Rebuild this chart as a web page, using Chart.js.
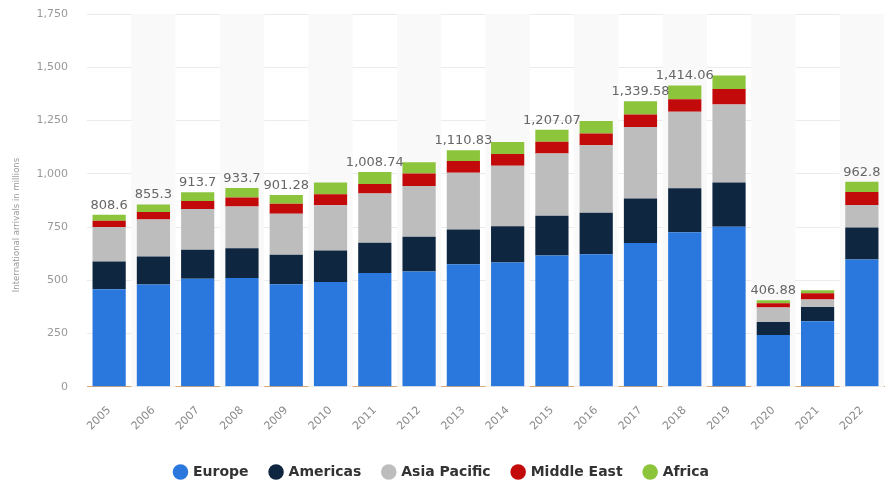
<!DOCTYPE html>
<html><head><meta charset="utf-8">
<script src="https://cdn.jsdelivr.net/npm/chart.js@4.4.0/dist/chart.umd.min.js"></script>
<style>html,body{margin:0;padding:0;background:#fff}#wrap{width:885px;height:483px;position:relative}</style>
</head><body><div id="wrap"><canvas id="c"></canvas></div>
<script>
const years = ['2005','2006','2007','2008','2009','2010','2011','2012','2013','2014','2015','2016','2017','2018','2019','2020','2021','2022'];
const europe      = [458,480,508,511,482,492,534,541,576,584,617,622,675,726,751,244,308,598];
const americas    = [130,132,135,140,138,148,142,163,163,170,186,195,209,206,208, 60, 67,150];
const asiaPacific = [162,174,192,195,192,212,232,239,266,284,292,317,336,359,366, 69, 35,106];
const middleEast  = [ 30, 35, 37, 43, 47, 52, 44, 59, 55, 55, 56, 55, 58, 59, 73, 20, 29, 61];
const africa      = [ 28, 35, 42, 44, 42, 55, 57, 52, 51, 56, 56, 59, 62, 64, 63, 14, 15, 48];
const totalLabels = [808.6,855.3,913.7,933.7,901.28,null,1008.74,null,1110.83,null,1207.07,null,1339.58,1414.06,null,406.88,null,962.8];
const yTicks = [0,250,500,750,1000,1250,1500,1750];
const yTitle = 'International arrivals in millions';

const bandPlugin = {
  id:'bands',
  beforeDatasetsDraw(chart){
    const {ctx, chartArea:a, scales:{x}} = chart;
    const w = (a.right - a.left) / years.length;
    ctx.save();
    ctx.fillStyle = '#f9f9f9';
    years.forEach((yr,i)=>{
      if(i%2===1){ const cx = x.getPixelForValue(i); ctx.fillRect(cx - w/2, a.top, w, a.bottom - a.top); }
    });
    ctx.restore();
  }
};
const labelPlugin = {
  id:'totals',
  afterDatasetsDraw(chart){
    const {ctx, scales:{x,y}} = chart;
    ctx.save();
    ctx.font = '13px "DejaVu Sans"';
    ctx.fillStyle = '#666';
    ctx.textAlign = 'center';
    ctx.textBaseline = 'bottom';
    totalLabels.forEach((t,i)=>{
      if(t===null) return;
      const sum = chart.data.datasets.reduce((s,d)=>s+d.data[i],0);
      ctx.fillText(t.toLocaleString('en-US',{maximumFractionDigits:2}), x.getPixelForValue(i), y.getPixelForValue(sum) - 3);
    });
    ctx.restore();
  }
};
const titlePlugin = {
  id:'ytitle',
  afterDraw(chart){
    const {ctx} = chart;
    ctx.save();
    ctx.translate(17, 225);
    ctx.rotate(-Math.PI/2);
    ctx.font = '8.5px "DejaVu Sans"';
    ctx.fillStyle = '#999';
    ctx.textAlign = 'center';
    ctx.textBaseline = 'middle';
    ctx.fillText(yTitle, 0, 0);
    ctx.restore();
  }
};

const mk = (label, data, color) => ({label, data, backgroundColor: color, borderWidth: 0, categoryPercentage: 1, barPercentage: 0.75});

new Chart(document.getElementById('c'), {
  type:'bar',
  data:{
    labels: years,
    datasets:[
      mk('Europe', europe, '#2a78de'),
      mk('Americas', americas, '#0f2640'),
      mk('Asia Pacific', asiaPacific, '#bdbdbd'),
      mk('Middle East', middleEast, '#c20a0a'),
      mk('Africa', africa, '#8cc43c')
    ]
  },
  options:{
    responsive:true, maintainAspectRatio:false, animation:false,
    layout:{padding:{top:14, right:1, left:0, bottom:-6}},
    scales:{
      x:{stacked:true,
        grid:{display:false},
        border:{display:true, color:'#d9a878', width:1},
        ticks:{color:'#8a8a8a', font:{family:'DejaVu Sans', size:11}, maxRotation:45, minRotation:45, padding:9},
        afterFit(s){ s.height += 1; }
      },
      y:{stacked:true, min:0, max:1750,
        afterBuildTicks(s){ s.ticks = yTicks.map(v=>({value:v})); },
        afterFit(s){ s.width = 87; },
        grid:{color:'#ebebeb', drawTicks:true, tickLength:19, tickColor:'rgba(0,0,0,0)'},
        border:{display:false},
        ticks:{color:'#999', font:{family:'DejaVu Sans', size:11}, padding:0,
          callback:v=>v.toLocaleString('en-US')}
      }
    },
    plugins:{
      legend:{position:'bottom',
        labels:{usePointStyle:true, pointStyle:'circle', boxWidth:11, boxHeight:11, padding:22,
          color:'#333', font:{family:'DejaVu Sans', size:14, weight:'bold'}}},
      tooltip:{enabled:false}
    }
  },
  plugins:[bandPlugin, labelPlugin, titlePlugin]
});
</script></body></html>
